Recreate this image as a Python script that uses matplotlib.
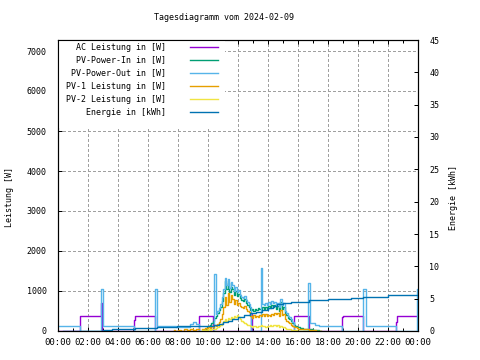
import numpy as np
import matplotlib
matplotlib.use("Agg")
import matplotlib.pyplot as plt
from matplotlib.patches import Rectangle

plt.rcParams['font.family'] = ['DejaVu Sans Mono']
plt.rcParams['lines.antialiased'] = False

# Zeitachse in Stunden
t_tag = [9.6, 9.7, 9.8, 9.9, 10.0, 10.1, 10.2, 10.3, 10.4, 10.5,
         10.6, 10.7, 10.8, 10.9, 11.0, 11.1, 11.2, 11.3, 11.4, 11.5,
         11.6, 11.7, 11.8, 11.9, 12.0, 12.1, 12.2, 12.3, 12.4, 12.5,
         12.6, 12.7, 12.8, 12.9, 13.0, 13.1, 13.2, 13.3, 13.4, 13.5,
         13.6, 13.7, 13.8, 13.9, 14.0, 14.1, 14.2, 14.3, 14.4, 14.5,
         14.6, 14.7, 14.8, 14.9, 15.0, 15.1, 15.2, 15.3, 15.4, 15.5,
         15.6, 15.7, 15.8, 15.9, 16.0, 16.1, 16.2, 16.3, 16.4, 16.5,
         16.6, 16.7, 16.8, 16.9, 17.0, 17.1, 17.2, 17.3, 17.4, 17.5]

pv_in = [0, 30, 60, 90, 120, 160, 200, 260, 330, 380,
         450, 520, 600, 750, 950, 1250, 1050, 1200, 980, 1100,
         1050, 900, 1000, 880, 930, 820, 780, 740, 800, 700,
         660, 600, 520, 540, 500, 560, 520, 580, 540, 560,
         600, 540, 600, 560, 620, 580, 650, 600, 640, 560,
         620, 500, 720, 560, 600, 450, 400, 330, 300, 260,
         200, 160, 120, 100, 90, 80, 70, 60, 55, 50,
         50, 45, 40, 40, 35, 30, 25, 20, 10, 0]

pv1 = [60, 40, 80, 60, 100, 80, 120, 100, 140, 130,
       180, 220, 300, 420, 600, 850, 650, 960, 720, 900,
       800, 680, 780, 660, 700, 620, 600, 580, 620, 540,
       500, 480, 380, 320, 400, 340, 380, 360, 400, 380,
       420, 370, 420, 380, 400, 370, 430, 400, 450, 420,
       460, 380, 520, 400, 420, 300, 260, 220, 190, 150,
       120, 100, 90, 70, 60, 60, 50, 55, 45, 40,
       40, 35, 30, 20, 20, 15, 10, 10, 5, 0]

pv2 = [20, 10, 30, 20, 40, 30, 50, 40, 60, 80,
       100, 130, 160, 200, 240, 300, 260, 320, 300, 350,
       330, 380, 340, 400, 360, 300, 260, 220, 190, 170,
       150, 140, 120, 110, 130, 120, 110, 130, 120, 140,
       120, 130, 110, 130, 120, 140, 130, 150, 140, 130,
       140, 110, 130, 100, 90, 70, 60, 50, 40, 30,
       25, 20, 15, 10, 10, 10, 10, 10, 10, 10,
       10, 10, 10, 10, 10, 10, 10, 5, 0, 0]

pv1_nacht_t = [7.7, 7.8, 8.0, 8.2, 8.4, 8.6, 8.8, 9.0, 9.2, 9.4]
pv1_nacht = [20, 0, 30, 10, 40, 20, 50, 30, 60, 50]

# PV-Power-Out (Stufen)
out_t = [0, 1.47, 2.87, 3.0, 5.07, 6.47, 6.58, 7.87, 8.8, 9.0, 9.2, 9.4, 10.4,
         10.5, 10.6, 10.7, 10.8, 10.9, 11.0, 11.1, 11.2, 11.3, 11.4, 11.5,
         11.6, 11.7, 11.8, 11.9, 12.0, 12.1, 12.2, 12.3, 12.4, 12.5, 12.6,
         12.7, 12.8, 12.87, 13.5, 13.6, 13.7, 13.8, 13.9, 14.0, 14.1, 14.2,
         14.3, 14.4, 14.5, 14.6, 14.7, 14.8, 14.9, 15.0, 15.1, 15.2, 15.3,
         15.4, 15.5, 15.6, 15.7, 16.67, 16.8, 17.1, 17.4, 18.95, 20.35,
         20.5, 22.53, 23.95, 24.0]
out_w = [117, 0, 1050, 117, 0, 1050, 117, 110, 170, 230, 170, 0, 1425,
         430, 500, 580, 680, 850, 1050, 1330, 1150, 1300, 1080, 1220,
         1150, 1000, 1100, 980, 1030, 900, 860, 820, 880, 780, 730,
         680, 600, 0, 1575, 680, 640, 700, 660, 720, 680, 740,
         700, 720, 640, 700, 600, 800, 650, 700, 500, 450, 380,
         340, 300, 230, 0, 1200, 190, 150, 117, 0, 1050,
         117, 0, 1050, 1050]

# AC Leistung (Stufen)
ac_t = [0, 1.47, 2.87, 2.93, 5.07, 5.15, 6.47, 9.4, 10.35, 12.87, 12.95,
        15.7, 16.7, 18.95, 19.02, 20.3, 22.53, 22.62, 24.0]
ac_w = [0, 370, 690, 0, 270, 370, 0, 370, 0, 420, 0,
        370, 0, 340, 370, 0, 230, 370, 370]

# Energie in kWh
en_t = [0.35, 3.0, 3.6, 5.1, 6.6, 7.9, 9.4, 10.0, 10.4, 10.7, 11.0, 11.3,
        11.6, 12.0, 12.4, 12.8, 13.2, 13.6, 14.0, 14.3, 14.6, 15.0, 15.5,
        16.7, 18.0, 19.5, 20.35, 22.0, 23.0, 24.0]
en_kwh = [0.05, 0.2, 0.3, 0.45, 0.55, 0.75, 0.8, 0.85, 1.0, 1.15, 1.35, 1.6,
          1.85, 2.15, 2.45, 2.75, 3.0, 3.25, 3.6, 3.9, 4.2, 4.35, 4.5,
          4.8, 4.95, 5.05, 5.3, 5.5, 5.6, 5.6]

x_labels = ['00:00', '02:00', '04:00', '06:00', '08:00', '10:00', '12:00',
            '14:00', '16:00', '18:00', '20:00', '22:00', '00:00']

farben = {'ac': '#9400d3', 'in': '#009e73', 'out': '#56b4e9',
          'pv1': '#e69f00', 'pv2': '#f0e442', 'en': '#0072b2'}
lw = 1.0
aa = True

fig = plt.figure(figsize=(4.8, 3.6), dpi=100)
ax = fig.add_axes([58 / 480, 29 / 360, 360 / 480, 291 / 360])
ax2 = ax.twinx()

ax.step(ac_t, ac_w, where='post', color=farben['ac'], lw=lw, antialiased=aa, zorder=2)
ax.step(t_tag, pv_in, where='post', color=farben['in'], lw=lw, antialiased=aa, zorder=2)
ax.step(out_t, out_w, where='post', color=farben['out'], lw=lw, antialiased=aa, zorder=2)
ax.step(pv1_nacht_t, pv1_nacht, where='post', color=farben['pv1'], lw=lw, antialiased=aa, zorder=2)
ax.step(t_tag, pv1, where='post', color=farben['pv1'], lw=lw, antialiased=aa, zorder=2)
ax.step(t_tag, pv2, where='post', color=farben['pv2'], lw=lw, antialiased=aa, zorder=2)
ax2.step(en_t, en_kwh, where='post', color=farben['en'], lw=lw, antialiased=aa, zorder=2)

ax.set_xlim(0, 24)
ax.set_ylim(0, 7275)
ax2.set_ylim(0, 45)

ax.set_xticks(np.arange(0, 25, 2))
ax.set_xticks(np.arange(0, 25, 1), minor=True)
ax.set_xticklabels(x_labels)
ax.set_yticks(np.arange(0, 7001, 1000))
ax2.set_yticks(np.arange(0, 46, 5))

ax.tick_params(axis='x', which='both', direction='in', top=True, labelsize=6.5, pad=5)
ax.tick_params(axis='x', which='major', length=3, width=0.72)
ax.tick_params(axis='x', which='minor', length=2, width=0.72)
ax.tick_params(axis='y', direction='in', length=3, width=0.72, labelsize=6, pad=8)
ax2.tick_params(axis='y', direction='in', length=3, width=0.72, labelsize=6, pad=8)

ax.grid(True, which='major', color='#a0a0a0', linestyle=(0, (2.2, 2.2)), lw=0.72)
ax.set_axisbelow(True)
for a in (ax, ax2):
    for s in a.spines.values():
        s.set_linewidth(0.8)

# Legende wie bei gnuplot: Text rechtsbuendig, Linie rechts davon
ax2.add_patch(Rectangle((0, 0.698), 0.464, 0.302, transform=ax.transAxes,
                        facecolor='white', edgecolor='none', zorder=1))
ax.patch.set_visible(False)
eintraege = [('AC Leistung in [W]', 'ac'), ('PV-Power-In in [W]', 'in'),
             ('PV-Power-Out in [W]', 'out'), ('PV-1 Leistung in [W]', 'pv1'),
             ('PV-2 Leistung in [W]', 'pv2'), ('Energie in [kWh]', 'en')]
for i, (txt, key) in enumerate(eintraege):
    yp = (331 - (47 + 13.05 * i)) / 291
    ax2.text(0.3, yp, txt, transform=ax.transAxes, ha='right', va='center',
             fontsize=6, zorder=3)
    ax2.plot([0.367, 0.444], [yp, yp], transform=ax.transAxes,
             color=farben[key], lw=lw, antialiased=aa, zorder=3)

fig.text(224 / 480, 1 - 18 / 360, 'Tagesdiagramm vom 2024-02-09',
         ha='center', va='center', fontsize=6)
fig.text(10 / 480, 1 - 197 / 360, 'Leistung [W]', rotation=90,
         ha='center', va='center', fontsize=6)
fig.text(453 / 480, 1 - 197 / 360, 'Energie [kWh]', rotation=90,
         ha='center', va='center', fontsize=6)

fig.savefig('out.png', dpi=100)
